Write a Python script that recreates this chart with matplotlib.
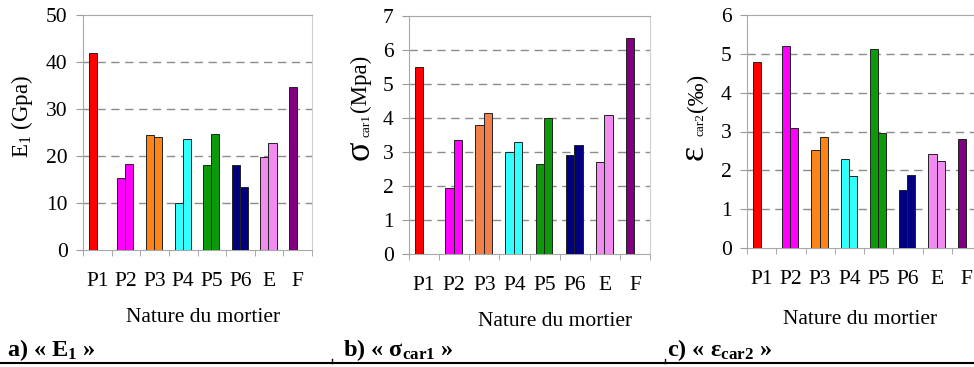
import numpy as np
import matplotlib
matplotlib.use('Agg')
from matplotlib import pyplot as plt

plt.rcParams['font.family'] = ['Liberation Serif', 'DejaVu Serif']
plt.rcParams['mathtext.fontset'] = 'custom'
plt.rcParams['mathtext.rm'] = 'Liberation Serif'
plt.rcParams['mathtext.it'] = 'Liberation Serif:italic'
plt.rcParams['mathtext.bf'] = 'Liberation Serif:bold'

categories = ['P1', 'P2', 'P3', 'P4', 'P5', 'P6', 'E', 'F']

# two measurements per mortar (nan = no second bar)
e1_a = [42.0, 15.4, 24.5, 10.0, 18.0, 18.0, 19.8, 34.6]
e1_b = [np.nan, 18.2, 24.1, 23.6, 24.6, 13.3, 22.8, np.nan]

sig_a = [5.5, 1.93, 3.8, 3.0, 2.65, 2.92, 2.7, 6.35]
sig_b = [np.nan, 3.35, 4.15, 3.3, 4.0, 3.22, 4.08, np.nan]

eps_a = [4.8, 5.2, 2.53, 2.3, 5.12, 1.5, 2.42, 2.8]
eps_b = [np.nan, 3.08, 2.85, 1.85, 2.97, 1.88, 2.23, np.nan]

e1_ticks = [0, 10, 20, 30, 40, 50]
sig_ticks = [0, 1, 2, 3, 4, 5, 6, 7]
eps_ticks = [0, 1, 2, 3, 4, 5, 6]

colors = ['#ff0000', '#ff00ff', '#ff8418', '#33ffff', '#0a9a0a', '#000080', '#f08cf0', '#800080']
colors_b = ['#ff0000', '#ff00ff', '#f3804a', '#33ffff', '#0a9a0a', '#000080', '#f08cf0', '#800080']

W, H = 974, 367
fig = plt.figure(figsize=(W / 100, H / 100), dpi=100)


def px(x, y):
    return x / W, 1 - y / H


def panel(left, right, top, bottom, s1, s2, ticks, cols):
    x0, y0 = px(left, bottom)
    x1, y1 = px(right, top)
    ax = fig.add_axes([x0, y0, x1 - x0, y1 - y0])
    x = np.arange(len(categories))
    ax.bar(x - 0.16, s1, width=0.28, color=cols, edgecolor='#222222', linewidth=0.7, zorder=3)
    ax.bar(x + 0.12, s2, width=0.28, color=cols, edgecolor='#222222', linewidth=0.7, zorder=3)
    ax.set_xlim(-0.5, len(categories) - 0.5)
    ax.set_ylim(ticks[0], ticks[-1])
    ax.set_yticks(ticks)
    ax.set_xticks(x)
    ax.set_xticklabels(categories)
    ax.set_xticks(np.arange(-0.5, len(categories)), minor=True)
    ax.tick_params(axis='x', which='major', length=0, pad=16, labelsize=15.5)
    ax.tick_params(axis='x', which='minor', length=4, color='#9a9a9a', direction='out')
    ax.tick_params(axis='y', length=5, color='#9a9a9a', pad=6, labelsize=15.5)
    # dashed grid, not on the zero line nor the top frame
    for v in ticks[1:-1]:
        ax.axhline(v, color='#8c8c8c', linestyle=(0, (6, 4)), linewidth=1.0, zorder=1)
    for s in ['left', 'bottom', 'top']:
        ax.spines[s].set_color('#a8a8a8')
    ax.spines['right'].set_color('#cfcfcf')
    return ax


ax1 = panel(83, 312, 15, 250, e1_a, e1_b, e1_ticks, colors)
ax2 = panel(409, 650, 16, 254, sig_a, sig_b, sig_ticks, colors_b)
ax3 = panel(747, 981, 15, 248, eps_a, eps_b, eps_ticks, colors)

# x labels
for cx, cy in [(203, 318), (555, 322), (860, 320)]:
    fig.text(*px(cx, cy), 'Nature du mortier', ha='center', va='center', fontsize=15.5)

# y labels (built from pieces: big greek letter, small index, unit)
fig.text(*px(22, 117), 'E$_{\\rm 1}$ (Gpa)', rotation=90, ha='center', va='center', fontsize=16.5)

fig.text(*px(360, 160), 'σ', rotation=90, ha='center', va='bottom', fontsize=26)
fig.text(*px(366, 137), 'car1', rotation=90, ha='center', va='bottom', fontsize=9.5)
fig.text(*px(360, 112), '(Mpa)', rotation=90, ha='center', va='bottom', fontsize=16.5)

fig.text(*px(694, 160), 'ε', rotation=90, ha='center', va='bottom', fontsize=26)
fig.text(*px(700, 136), 'car2', rotation=90, ha='center', va='bottom', fontsize=9.5)
fig.text(*px(697, 112), '(‰)', rotation=90, ha='center', va='bottom', fontsize=16.5)

# captions under each panel
fig.text(*px(7, 356), 'a) « $\\mathbf{E_1}$ »', ha='left', va='baseline', fontsize=17.5, fontweight='bold')
fig.text(*px(343, 356), 'b) « $\\mathbf{σ_{car1}}$ »', ha='left', va='baseline', fontsize=17.5, fontweight='bold')
fig.text(*px(667, 356), 'c) « $\\mathbf{ε_{car2}}$ »', ha='left', va='baseline', fontsize=17.5, fontweight='bold')

# table rule at the bottom
fig.add_artist(plt.Line2D([0, 1], [1 - 363 / H] * 2, color='black', linewidth=1.5))
for xb in [332, 665]:
    fig.add_artist(plt.Line2D([xb / W] * 2, [1 - 363 / H, 1 - 359 / H], color='black', linewidth=1.0))

fig.savefig('out.png', dpi=100)
